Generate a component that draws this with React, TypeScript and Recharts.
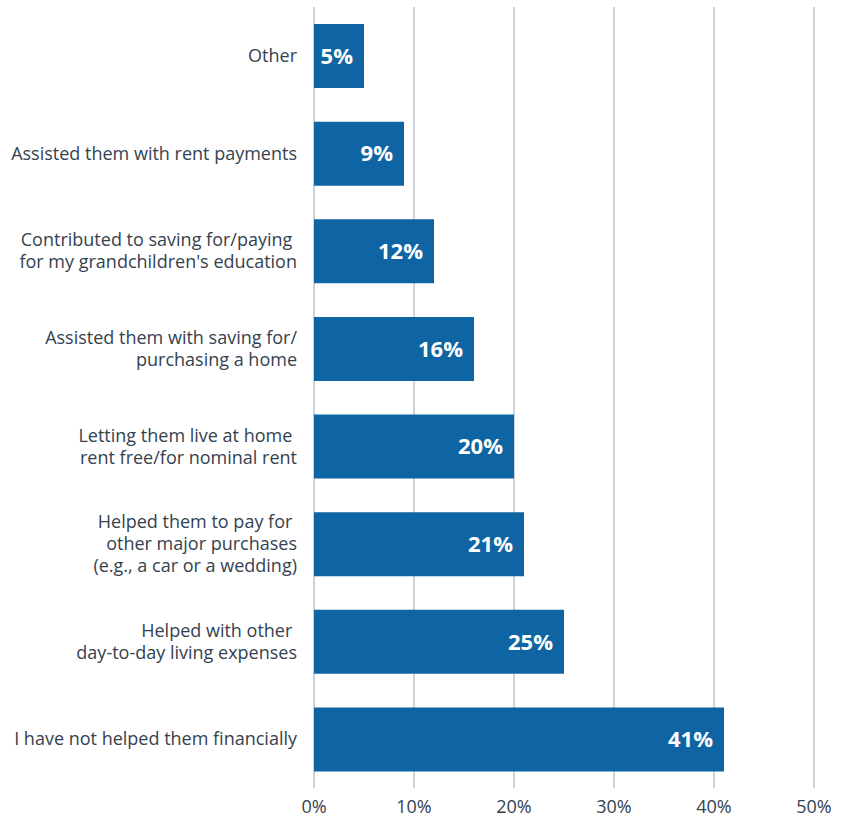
import { Bar, BarChart, CartesianGrid, LabelList, XAxis, YAxis } from "recharts";

const categories = [
  "Other",
  "Assisted them with rent payments",
  "Contributed to saving for/paying \nfor my grandchildren's education",
  "Assisted them with saving for/\npurchasing a home",
  "Letting them live at home \nrent free/for nominal rent",
  "Helped them to pay for \nother major purchases\n(e.g., a car or a wedding)",
  "Helped with other \nday-to-day living expenses",
  "I have not helped them financially",
];

const shares = [5, 9, 12, 16, 20, 21, 25, 41];

const xTicks = [0, 10, 20, 30, 40, 50];

const BAR_COLOR = "#0f65a3";
const TEXT_COLOR = "#34424f";
const GRID_COLOR = "#bcc5ce";
const FONT = "'Open Sans', 'Noto Sans', sans-serif";

const data = categories.map((name, i) => ({ name, value: shares[i] }));

type TickProps = {
  x?: number;
  y?: number;
  payload?: { value: string };
};

function CategoryTick({ x = 0, y = 0, payload }: TickProps) {
  const lines = String(payload?.value ?? "").split("\n");
  const lineHeight = 22;
  const startY = y - ((lines.length - 1) * lineHeight) / 2;
  return (
    <text
      x={x}
      y={startY}
      textAnchor="end"
      fill={TEXT_COLOR}
      fontSize={18}
      fontFamily={FONT}
      style={{ whiteSpace: "pre" }}
    >
      {lines.map((line, i) => (
        <tspan key={i} x={x} y={startY + i * lineHeight} dy="0.35em">
          {line}
        </tspan>
      ))}
    </text>
  );
}

export default function App() {
  return (
    <div style={{ position: "absolute", left: 0, top: 0 }}>
      <BarChart
        width={855}
        height={818}
        data={data}
        layout="vertical"
        margin={{ top: 7, right: 41, bottom: 0, left: 0 }}
        barSize={64}
      >
        <CartesianGrid
          horizontal={false}
          stroke={GRID_COLOR}
          strokeWidth={1.5}
        />
        <XAxis
          type="number"
          domain={[0, 50]}
          ticks={xTicks}
          height={30}
          axisLine={false}
          tickLine={false}
          tickMargin={6}
          tickFormatter={(v) => `${v}%`}
          tick={{ fill: TEXT_COLOR, fontSize: 18, fontFamily: FONT }}
        />
        <YAxis
          type="category"
          dataKey="name"
          width={314}
          axisLine={false}
          tickLine={false}
          tickMargin={11}
          interval={0}
          tick={<CategoryTick />}
        />
        <Bar dataKey="value" fill={BAR_COLOR} isAnimationActive={false}>
          <LabelList
            dataKey="value"
            position="insideRight"
            offset={11}
            formatter={(v) => `${v}%`}
            fill="#ffffff"
            fontSize={22}
            fontWeight={700}
            fontFamily={FONT}
          />
        </Bar>
      </BarChart>
    </div>
  );
}
